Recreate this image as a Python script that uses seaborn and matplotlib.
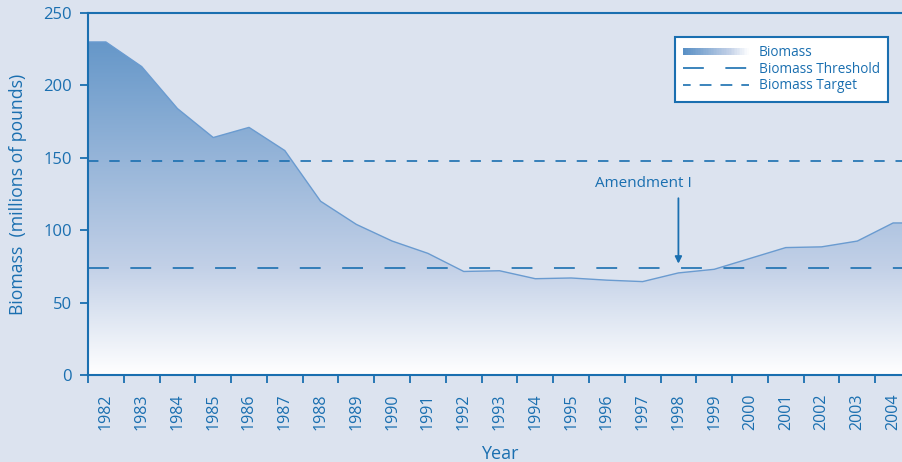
import matplotlib
matplotlib.use("Agg")

import matplotlib.pyplot as plt
import numpy as np
import seaborn as sns
from matplotlib.colors import LinearSegmentedColormap
from matplotlib.legend_handler import HandlerBase
from matplotlib.lines import Line2D
from matplotlib.patches import Patch, Rectangle

# data
years = [str(y) for y in range(1982, 2005)]
biomass = [230, 213, 184, 164, 171, 155, 120, 104, 92.5, 84, 71.5, 72, 66.5,
           67, 65.5, 64.5, 70.5, 73, 80.5, 88, 88.5, 92.5, 105]
target = 148
threshold = 74
amendment_year = "1998"

BLUE = "#1a6fb0"
BG = "#dce3ef"
LINE = "#6a9bd0"
grad_cmap = LinearSegmentedColormap.from_list(
    "bio", [(0, "#ffffff"), (0.3, "#c2d0e7"), (1.0, "#5a90c5")])

sns.set_theme(style="ticks")
plt.rcParams["font.family"] = ["Open Sans", "DejaVu Sans"]
plt.rcParams["lines.scale_dashes"] = False


class GradientHandler(HandlerBase):
    # legend swatch drawn as thin vertical slices
    def create_artists(self, legend, orig, xd, yd, w, h, fs, trans):
        n = 40
        out = []
        for i in range(n):
            c = grad_cmap(1 - i / (n - 1) * 0.98)
            r = Rectangle((xd + w * i / n, yd + h * 0.1), w / n + 0.3, h * 0.75,
                          facecolor=c, edgecolor="none", transform=trans)
            out.append(r)
        return out


fig = plt.figure(figsize=(9.02, 4.62), dpi=100, facecolor=BG)
ax = fig.add_axes([88 / 902, 87 / 462, 823 / 902, 362 / 462], facecolor=BG)

n = len(years)
xs = np.r_[0, np.arange(n) + 0.5, n]
ys = np.r_[biomass[0], biomass, biomass[-1]]

poly = ax.fill_between(xs, ys, 0, color="none", lw=0)
grad = np.linspace(0, 1, 256).reshape(-1, 1)
im = ax.imshow(grad, extent=[0, n, 0, 250], origin="lower", aspect="auto",
               cmap=grad_cmap, zorder=1)
im.set_clip_path(poly.get_paths()[0], transform=ax.transData)
sns.lineplot(x=xs, y=ys, color=LINE, lw=1.0, ax=ax, zorder=2)

ax.axhline(target, color=BLUE, lw=1.2, ls=(0, (7.5, 7.8)), zorder=3)
ax.axhline(threshold, color=BLUE, lw=1.2, ls=(0, (15, 15.5)), zorder=3)

xa = years.index(amendment_year) + 0.5
ax.annotate("", xy=(xa, threshold + 1), xytext=(xa, 124),
            arrowprops=dict(arrowstyle="-|>", color=BLUE, lw=1.3,
                            mutation_scale=10), zorder=4)
ax.text(xa + 0.38, 132, "Amendment I", ha="right", va="center",
        fontsize=11, color=BLUE, zorder=4)

ax.set_xlim(0, n)
ax.set_ylim(0, 250)
ax.set_yticks(range(0, 251, 50))
ax.set_xticks(range(n + 1))
ax.set_xticklabels([])
ax.set_xticks(np.arange(n) + 0.5, minor=True)
ax.set_xticklabels(years, minor=True, rotation=90)
ax.tick_params(axis="x", which="major", length=5.5, width=1.3, color=BLUE)
ax.tick_params(axis="x", which="minor", length=0, pad=13, labelsize=11.5,
               labelcolor=BLUE)
ax.tick_params(axis="y", length=5.5, width=1.3, color=BLUE, pad=6,
               labelsize=12, labelcolor=BLUE)
for s in ax.spines.values():
    s.set_color(BLUE)
    s.set_linewidth(1.5)

ax.set_xlabel("Year", fontsize=13, color=BLUE, labelpad=11)
ax.set_ylabel("Biomass  (millions of pounds)", fontsize=12.7, color=BLUE,
              labelpad=12)

handles = [Patch(label="Biomass"),
           Line2D([], [], color=BLUE, lw=1.2, ls=(0, (15, 15.5)),
                  label="Biomass Threshold"),
           Line2D([], [], color=BLUE, lw=1.2, ls=(3, (8.5, 6.5)),
                  label="Biomass Target")]
leg = ax.legend(handles=handles, loc="upper right",
                bbox_to_anchor=(800 / 823, 338 / 362),
                handler_map={Patch: GradientHandler()},
                fontsize=9.8, labelcolor=BLUE, frameon=True, fancybox=False,
                handlelength=4.8, handletextpad=0.75, labelspacing=0.12,
                borderpad=0.6, borderaxespad=0)
leg.get_frame().set_edgecolor(BLUE)
leg.get_frame().set_linewidth(1.5)
leg.get_frame().set_facecolor("white")
leg.get_frame().set_alpha(1)

fig.savefig("out.png", dpi=100, facecolor=BG)
